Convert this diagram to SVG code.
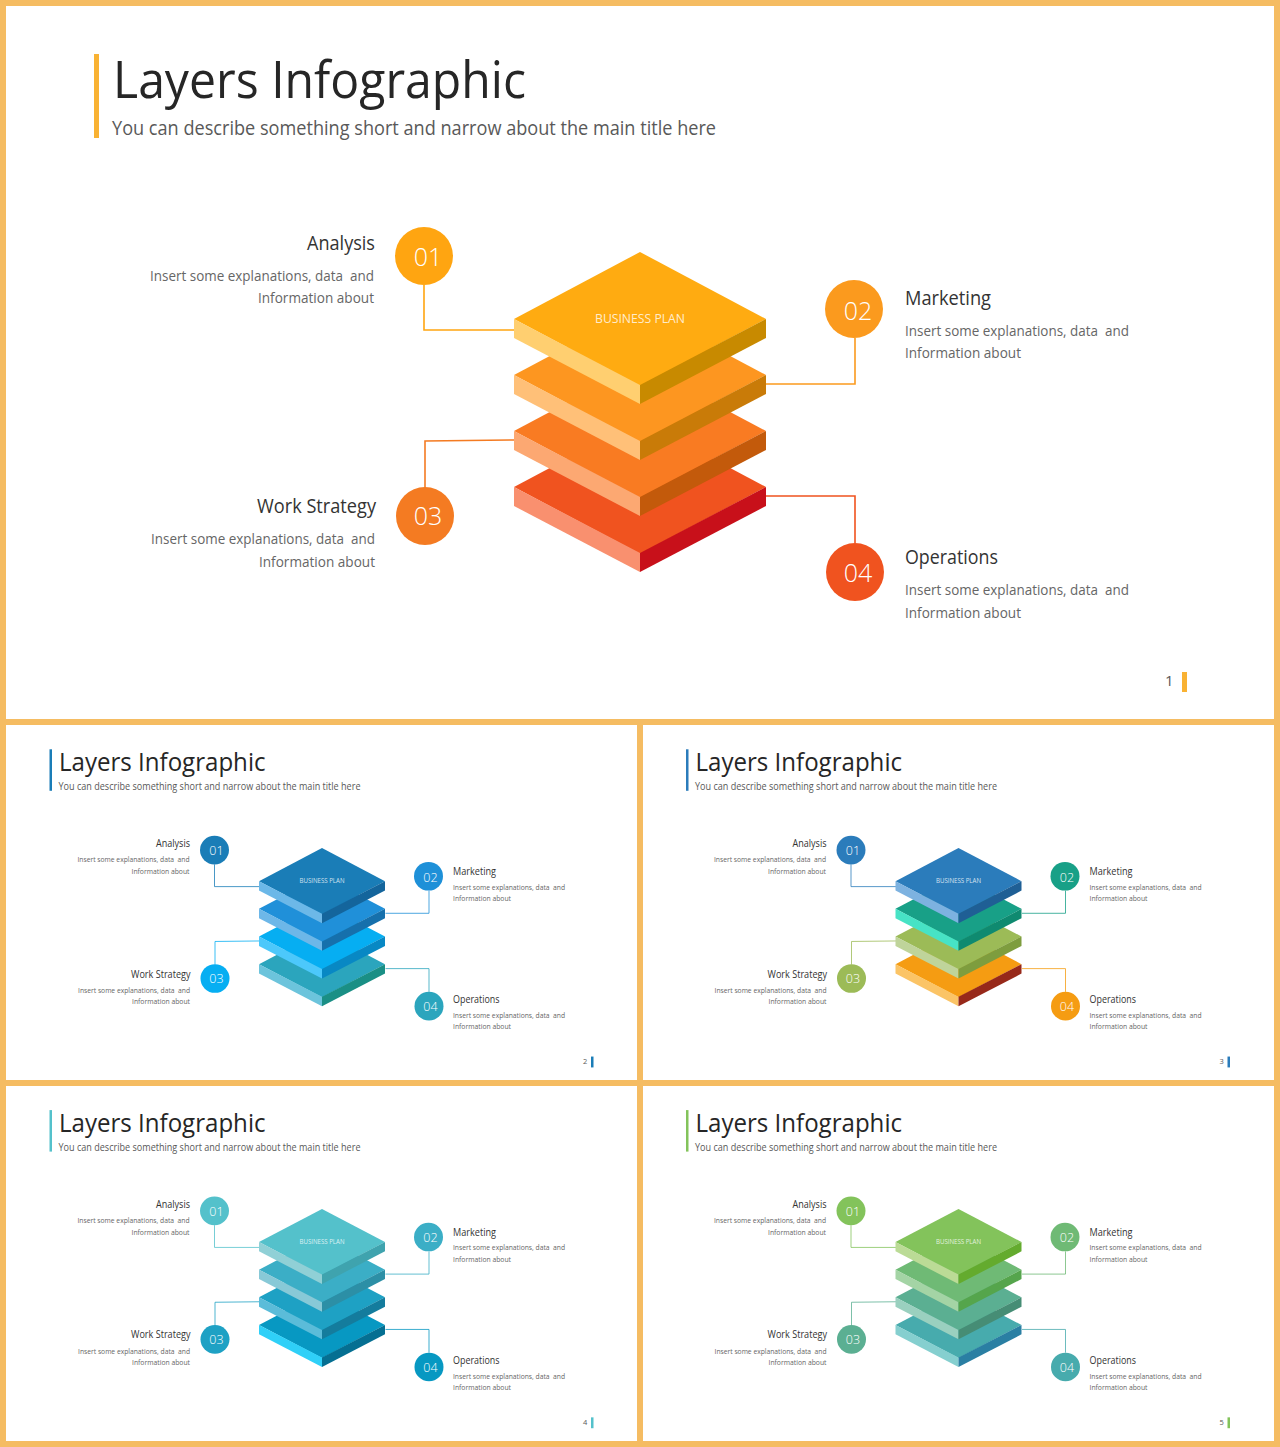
<svg xmlns="http://www.w3.org/2000/svg" width="1280" height="1447" viewBox="0 0 1280 1447">
<style>
text{font-family:"Open Sans","Noto Sans","Liberation Sans",sans-serif;white-space:pre}
.tt{font-size:52px;fill:#262626}
.st{font-size:20px;fill:#595959}
.h{font-size:20px;fill:#333}
.d{font-size:15px;fill:#666}
.n{font-size:25px;fill:#fff;text-anchor:middle;font-weight:300}
.e{text-anchor:end}
.bp{font-size:13px;text-anchor:middle;fill:#fff;fill-opacity:.8}
.pg{font-size:15px;fill:#595959}
.c{fill:none;stroke-width:1.6}
</style>
<defs>
<polygon id="t" points="640,252 766,319 640,386 514,319"/>
<polygon id="l" points="514,319 640,385 640,404 514,338"/>
<polygon id="r" points="766,319 640,385 640,404 766,338"/>
</defs>
<rect width="1280" height="1447" fill="#F5BC62"/>
<rect x="6" y="6" width="1268" height="713" fill="#fff"/>
<rect x="6" y="725" width="631" height="355" fill="#fff"/>
<rect x="643" y="725" width="631" height="355" fill="#fff"/>
<rect x="6" y="1086" width="631" height="355" fill="#fff"/>
<rect x="643" y="1086" width="631" height="355" fill="#fff"/>

<g id="slide-1">
<rect x="94" y="54" width="5" height="84" fill="#F9B233"/>
<text class="tt" x="113" y="98" textLength="413" lengthAdjust="spacingAndGlyphs">Layers Infographic</text>
<text class="st" x="112" y="135" textLength="604" lengthAdjust="spacingAndGlyphs">You can describe something short and narrow about the main title here</text>
<g id="s1-connectors">
<path class="c" stroke="#FFA511" d="M424 285V330H514"/>
<path class="c" stroke="#FB9A1E" d="M855 338V384H766"/>
<path class="c" stroke="#F47B22" d="M425 488V441L514 440"/>
<path class="c" stroke="#F0531F" d="M855 543V496H766"/>
</g>
<g id="s1-stack">
<g transform="translate(0,168)"><use href="#t" fill="#F0531F"/><use href="#l" fill="#F9906F"/><use href="#r" fill="#C8101A"/></g>
<g transform="translate(0,112)"><use href="#t" fill="#F97B22"/><use href="#l" fill="#FCA872"/><use href="#r" fill="#C35A0B"/></g>
<g transform="translate(0,56)"><use href="#t" fill="#FD9620"/><use href="#l" fill="#FFC078"/><use href="#r" fill="#C97B08"/></g>
<use href="#t" fill="#FFAB11"/><use href="#l" fill="#FFCF70"/><use href="#r" fill="#C88A00"/>
<text class="bp" x="640" y="323" textLength="90" lengthAdjust="spacingAndGlyphs">BUSINESS PLAN</text>
</g>
<g id="s1-n1"><circle cx="424" cy="256" r="29" fill="#FFA511"/><text class="n" x="428" y="266">01</text><text class="h e" x="375" y="250" textLength="68" lengthAdjust="spacingAndGlyphs">Analysis</text><text class="d e" x="374" y="281" textLength="224" lengthAdjust="spacingAndGlyphs">Insert some explanations, data  and</text><text class="d e" x="374" y="303" textLength="116" lengthAdjust="spacingAndGlyphs">Information about</text></g>
<g id="s1-n2"><circle cx="854" cy="309" r="29" fill="#FB9A1E"/><text class="n" x="858" y="320">02</text><text class="h" x="905" y="305" textLength="86" lengthAdjust="spacingAndGlyphs">Marketing</text><text class="d" x="905" y="336" textLength="224" lengthAdjust="spacingAndGlyphs">Insert some explanations, data  and</text><text class="d" x="905" y="358" textLength="116" lengthAdjust="spacingAndGlyphs">Information about</text></g>
<g id="s1-n3"><circle cx="425" cy="516" r="29" fill="#F47B22"/><text class="n" x="428" y="525">03</text><text class="h e" x="376" y="513" textLength="119" lengthAdjust="spacingAndGlyphs">Work Strategy</text><text class="d e" x="375" y="544" textLength="224" lengthAdjust="spacingAndGlyphs">Insert some explanations, data  and</text><text class="d e" x="375" y="567" textLength="116" lengthAdjust="spacingAndGlyphs">Information about</text></g>
<g id="s1-n4"><circle cx="855" cy="572" r="29" fill="#F0531F"/><text class="n" x="858" y="582">04</text><text class="h" x="905" y="564" textLength="93" lengthAdjust="spacingAndGlyphs">Operations</text><text class="d" x="905" y="595" textLength="224" lengthAdjust="spacingAndGlyphs">Insert some explanations, data  and</text><text class="d" x="905" y="618" textLength="116" lengthAdjust="spacingAndGlyphs">Information about</text></g>
<text class="pg" x="1165" y="686">1</text><rect x="1182" y="672" width="5" height="20" fill="#F9B233"/>
</g>

<g id="slide-2" transform="matrix(.5 0 0 .494 2.5 723.6)">
<rect x="94" y="52" width="5" height="84" fill="#1A7DB7"/>
<text class="tt" x="113" y="96" textLength="413" lengthAdjust="spacingAndGlyphs">Layers Infographic</text>
<text class="st" x="112" y="135" textLength="604" lengthAdjust="spacingAndGlyphs">You can describe something short and narrow about the main title here</text>
<g id="s2-connectors">
<path class="c" stroke="#1A7DB7" d="M424 285V330H514"/>
<path class="c" stroke="#1E90D8" d="M853 338V384H766"/>
<path class="c" stroke="#06AEF2" d="M425 488V441L514 440"/>
<path class="c" stroke="#2BA5BD" d="M853 543V496H766"/>
</g>
<g id="s2-stack" transform="translate(-1,0)">
<g transform="translate(0,168)"><use href="#t" fill="#2BA5BD"/><use href="#l" fill="#6CC4DC"/><use href="#r" fill="#1A8F85"/></g>
<g transform="translate(0,112)"><use href="#t" fill="#06AEF2"/><use href="#l" fill="#4CC8FB"/><use href="#r" fill="#0888C4"/></g>
<g transform="translate(0,56)"><use href="#t" fill="#2090D9"/><use href="#l" fill="#6DB7E8"/><use href="#r" fill="#1670AC"/></g>
<use href="#t" fill="#1A7DB7"/><use href="#l" fill="#6CB8E8"/><use href="#r" fill="#14659C"/>
<text class="bp" x="640" y="323" textLength="90" lengthAdjust="spacingAndGlyphs">BUSINESS PLAN</text>
</g>
<g id="s2-n1"><circle cx="424" cy="256" r="29" fill="#1A7DB7"/><text class="n" x="428" y="266">01</text><text class="h e" x="375" y="250" textLength="68" lengthAdjust="spacingAndGlyphs">Analysis</text><text class="d e" x="374" y="281" textLength="224" lengthAdjust="spacingAndGlyphs">Insert some explanations, data  and</text><text class="d e" x="374" y="304" textLength="116" lengthAdjust="spacingAndGlyphs">Information about</text></g>
<g id="s2-n2"><circle cx="852" cy="309" r="29" fill="#1E90D8"/><text class="n" x="856" y="320">02</text><text class="h" x="901" y="306" textLength="86" lengthAdjust="spacingAndGlyphs">Marketing</text><text class="d" x="901" y="336" textLength="224" lengthAdjust="spacingAndGlyphs">Insert some explanations, data  and</text><text class="d" x="901" y="359" textLength="116" lengthAdjust="spacingAndGlyphs">Information about</text></g>
<g id="s2-n3"><circle cx="425" cy="516" r="29" fill="#06AEF2"/><text class="n" x="428" y="525">03</text><text class="h e" x="376" y="514" textLength="119" lengthAdjust="spacingAndGlyphs">Work Strategy</text><text class="d e" x="375" y="545" textLength="224" lengthAdjust="spacingAndGlyphs">Insert some explanations, data  and</text><text class="d e" x="375" y="568" textLength="116" lengthAdjust="spacingAndGlyphs">Information about</text></g>
<g id="s2-n4"><circle cx="853" cy="572" r="29" fill="#2BA5BD"/><text class="n" x="856" y="582">04</text><text class="h" x="901" y="566" textLength="93" lengthAdjust="spacingAndGlyphs">Operations</text><text class="d" x="901" y="596" textLength="224" lengthAdjust="spacingAndGlyphs">Insert some explanations, data  and</text><text class="d" x="901" y="619" textLength="116" lengthAdjust="spacingAndGlyphs">Information about</text></g>
<text class="pg" x="1161" y="689">2</text><rect x="1177" y="674" width="5" height="22" fill="#1A7DB7"/>
</g>

<g id="slide-3" transform="matrix(.5 0 0 .494 639 723.6)">
<rect x="94" y="52" width="5" height="84" fill="#2B7CBB"/>
<text class="tt" x="113" y="96" textLength="413" lengthAdjust="spacingAndGlyphs">Layers Infographic</text>
<text class="st" x="112" y="135" textLength="604" lengthAdjust="spacingAndGlyphs">You can describe something short and narrow about the main title here</text>
<g id="s3-connectors">
<path class="c" stroke="#2B7CBB" d="M424 285V330H514"/>
<path class="c" stroke="#18A087" d="M853 338V384H766"/>
<path class="c" stroke="#9CBB57" d="M425 488V441L514 440"/>
<path class="c" stroke="#F59C12" d="M853 543V496H766"/>
</g>
<g id="s3-stack" transform="translate(-1,0)">
<g transform="translate(0,168)"><use href="#t" fill="#F59C12"/><use href="#l" fill="#FBC466"/><use href="#r" fill="#97291A"/></g>
<g transform="translate(0,112)"><use href="#t" fill="#9CBB57"/><use href="#l" fill="#BFD49A"/><use href="#r" fill="#7E9D3E"/></g>
<g transform="translate(0,56)"><use href="#t" fill="#18A087"/><use href="#l" fill="#47E3C5"/><use href="#r" fill="#0F8A70"/></g>
<use href="#t" fill="#2B7CBB"/><use href="#l" fill="#7DB2E0"/><use href="#r" fill="#1F5F95"/>
<text class="bp" x="640" y="323" textLength="90" lengthAdjust="spacingAndGlyphs">BUSINESS PLAN</text>
</g>
<g id="s3-n1"><circle cx="424" cy="256" r="29" fill="#2B7CBB"/><text class="n" x="428" y="266">01</text><text class="h e" x="375" y="250" textLength="68" lengthAdjust="spacingAndGlyphs">Analysis</text><text class="d e" x="374" y="281" textLength="224" lengthAdjust="spacingAndGlyphs">Insert some explanations, data  and</text><text class="d e" x="374" y="304" textLength="116" lengthAdjust="spacingAndGlyphs">Information about</text></g>
<g id="s3-n2"><circle cx="852" cy="309" r="29" fill="#18A087"/><text class="n" x="856" y="320">02</text><text class="h" x="901" y="306" textLength="86" lengthAdjust="spacingAndGlyphs">Marketing</text><text class="d" x="901" y="336" textLength="224" lengthAdjust="spacingAndGlyphs">Insert some explanations, data  and</text><text class="d" x="901" y="359" textLength="116" lengthAdjust="spacingAndGlyphs">Information about</text></g>
<g id="s3-n3"><circle cx="425" cy="516" r="29" fill="#9CBB57"/><text class="n" x="428" y="525">03</text><text class="h e" x="376" y="514" textLength="119" lengthAdjust="spacingAndGlyphs">Work Strategy</text><text class="d e" x="375" y="545" textLength="224" lengthAdjust="spacingAndGlyphs">Insert some explanations, data  and</text><text class="d e" x="375" y="568" textLength="116" lengthAdjust="spacingAndGlyphs">Information about</text></g>
<g id="s3-n4"><circle cx="853" cy="572" r="29" fill="#F59C12"/><text class="n" x="856" y="582">04</text><text class="h" x="901" y="566" textLength="93" lengthAdjust="spacingAndGlyphs">Operations</text><text class="d" x="901" y="596" textLength="224" lengthAdjust="spacingAndGlyphs">Insert some explanations, data  and</text><text class="d" x="901" y="619" textLength="116" lengthAdjust="spacingAndGlyphs">Information about</text></g>
<text class="pg" x="1161" y="689">3</text><rect x="1177" y="674" width="5" height="22" fill="#2B7CBB"/>
</g>

<g id="slide-4" transform="matrix(.5 0 0 .494 2.5 1084.4)">
<rect x="94" y="52" width="5" height="84" fill="#54C1CB"/>
<text class="tt" x="113" y="96" textLength="413" lengthAdjust="spacingAndGlyphs">Layers Infographic</text>
<text class="st" x="112" y="135" textLength="604" lengthAdjust="spacingAndGlyphs">You can describe something short and narrow about the main title here</text>
<g id="s4-connectors">
<path class="c" stroke="#54C1CB" d="M424 285V330H514"/>
<path class="c" stroke="#3BAEC6" d="M853 338V384H766"/>
<path class="c" stroke="#1EA1C4" d="M425 488V441L514 440"/>
<path class="c" stroke="#0798C2" d="M853 543V496H766"/>
</g>
<g id="s4-stack" transform="translate(-1,0)">
<g transform="translate(0,168)"><use href="#t" fill="#0798C2"/><use href="#l" fill="#2FD0F8"/><use href="#r" fill="#056F92"/></g>
<g transform="translate(0,112)"><use href="#t" fill="#1EA1C4"/><use href="#l" fill="#5BBCD9"/><use href="#r" fill="#147C9D"/></g>
<g transform="translate(0,56)"><use href="#t" fill="#3BAEC6"/><use href="#l" fill="#88C9D7"/><use href="#r" fill="#2C8FA6"/></g>
<use href="#t" fill="#54C1CB"/><use href="#l" fill="#90D0D6"/><use href="#r" fill="#3FA3AE"/>
<text class="bp" x="640" y="323" textLength="90" lengthAdjust="spacingAndGlyphs">BUSINESS PLAN</text>
</g>
<g id="s4-n1"><circle cx="424" cy="256" r="29" fill="#54C1CB"/><text class="n" x="428" y="266">01</text><text class="h e" x="375" y="250" textLength="68" lengthAdjust="spacingAndGlyphs">Analysis</text><text class="d e" x="374" y="281" textLength="224" lengthAdjust="spacingAndGlyphs">Insert some explanations, data  and</text><text class="d e" x="374" y="304" textLength="116" lengthAdjust="spacingAndGlyphs">Information about</text></g>
<g id="s4-n2"><circle cx="852" cy="309" r="29" fill="#3BAEC6"/><text class="n" x="856" y="320">02</text><text class="h" x="901" y="306" textLength="86" lengthAdjust="spacingAndGlyphs">Marketing</text><text class="d" x="901" y="336" textLength="224" lengthAdjust="spacingAndGlyphs">Insert some explanations, data  and</text><text class="d" x="901" y="359" textLength="116" lengthAdjust="spacingAndGlyphs">Information about</text></g>
<g id="s4-n3"><circle cx="425" cy="516" r="29" fill="#1EA1C4"/><text class="n" x="428" y="525">03</text><text class="h e" x="376" y="514" textLength="119" lengthAdjust="spacingAndGlyphs">Work Strategy</text><text class="d e" x="375" y="545" textLength="224" lengthAdjust="spacingAndGlyphs">Insert some explanations, data  and</text><text class="d e" x="375" y="568" textLength="116" lengthAdjust="spacingAndGlyphs">Information about</text></g>
<g id="s4-n4"><circle cx="853" cy="572" r="29" fill="#0798C2"/><text class="n" x="856" y="582">04</text><text class="h" x="901" y="566" textLength="93" lengthAdjust="spacingAndGlyphs">Operations</text><text class="d" x="901" y="596" textLength="224" lengthAdjust="spacingAndGlyphs">Insert some explanations, data  and</text><text class="d" x="901" y="619" textLength="116" lengthAdjust="spacingAndGlyphs">Information about</text></g>
<text class="pg" x="1161" y="689">4</text><rect x="1177" y="674" width="5" height="22" fill="#54C1CB"/>
</g>

<g id="slide-5" transform="matrix(.5 0 0 .494 639 1084.4)">
<rect x="94" y="52" width="5" height="84" fill="#83C35B"/>
<text class="tt" x="113" y="96" textLength="413" lengthAdjust="spacingAndGlyphs">Layers Infographic</text>
<text class="st" x="112" y="135" textLength="604" lengthAdjust="spacingAndGlyphs">You can describe something short and narrow about the main title here</text>
<g id="s5-connectors">
<path class="c" stroke="#83C35B" d="M424 285V330H514"/>
<path class="c" stroke="#6FBA75" d="M853 338V384H766"/>
<path class="c" stroke="#5BAF92" d="M425 488V441L514 440"/>
<path class="c" stroke="#47ABAD" d="M853 543V496H766"/>
</g>
<g id="s5-stack" transform="translate(-1,0)">
<g transform="translate(0,168)"><use href="#t" fill="#47ABAD"/><use href="#l" fill="#85CFCF"/><use href="#r" fill="#2A7FA3"/></g>
<g transform="translate(0,112)"><use href="#t" fill="#5BAF92"/><use href="#l" fill="#9AD0BF"/><use href="#r" fill="#468D75"/></g>
<g transform="translate(0,56)"><use href="#t" fill="#6FBA75"/><use href="#l" fill="#A4D4A5"/><use href="#r" fill="#55A54C"/></g>
<use href="#t" fill="#83C35B"/><use href="#l" fill="#BBDB96"/><use href="#r" fill="#64AB2E"/>
<text class="bp" x="640" y="323" textLength="90" lengthAdjust="spacingAndGlyphs">BUSINESS PLAN</text>
</g>
<g id="s5-n1"><circle cx="424" cy="256" r="29" fill="#83C35B"/><text class="n" x="428" y="266">01</text><text class="h e" x="375" y="250" textLength="68" lengthAdjust="spacingAndGlyphs">Analysis</text><text class="d e" x="374" y="281" textLength="224" lengthAdjust="spacingAndGlyphs">Insert some explanations, data  and</text><text class="d e" x="374" y="304" textLength="116" lengthAdjust="spacingAndGlyphs">Information about</text></g>
<g id="s5-n2"><circle cx="852" cy="309" r="29" fill="#6FBA75"/><text class="n" x="856" y="320">02</text><text class="h" x="901" y="306" textLength="86" lengthAdjust="spacingAndGlyphs">Marketing</text><text class="d" x="901" y="336" textLength="224" lengthAdjust="spacingAndGlyphs">Insert some explanations, data  and</text><text class="d" x="901" y="359" textLength="116" lengthAdjust="spacingAndGlyphs">Information about</text></g>
<g id="s5-n3"><circle cx="425" cy="516" r="29" fill="#5BAF92"/><text class="n" x="428" y="525">03</text><text class="h e" x="376" y="514" textLength="119" lengthAdjust="spacingAndGlyphs">Work Strategy</text><text class="d e" x="375" y="545" textLength="224" lengthAdjust="spacingAndGlyphs">Insert some explanations, data  and</text><text class="d e" x="375" y="568" textLength="116" lengthAdjust="spacingAndGlyphs">Information about</text></g>
<g id="s5-n4"><circle cx="853" cy="572" r="29" fill="#47ABAD"/><text class="n" x="856" y="582">04</text><text class="h" x="901" y="566" textLength="93" lengthAdjust="spacingAndGlyphs">Operations</text><text class="d" x="901" y="596" textLength="224" lengthAdjust="spacingAndGlyphs">Insert some explanations, data  and</text><text class="d" x="901" y="619" textLength="116" lengthAdjust="spacingAndGlyphs">Information about</text></g>
<text class="pg" x="1161" y="689">5</text><rect x="1177" y="674" width="5" height="22" fill="#83C35B"/>
</g>
</svg>
